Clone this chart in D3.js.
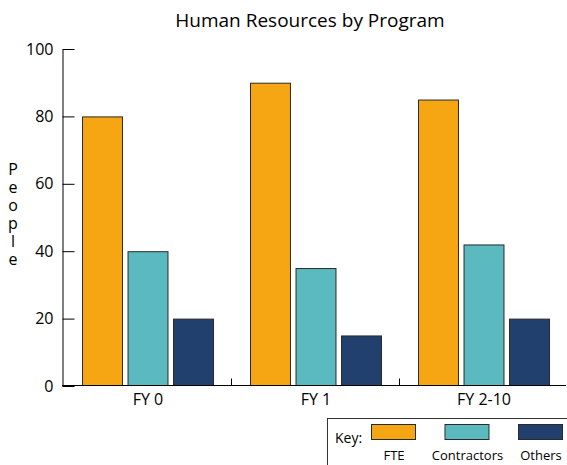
<!DOCTYPE html>
<html>
<head>
<meta charset="utf-8">
<script src="https://cdn.jsdelivr.net/npm/d3@7"></script>
<style>
  body { margin: 0; background: #fff; }
  svg { display: block; font-family: "Open Sans", sans-serif; }
</style>
</head>
<body>
<svg id="chart" width="567" height="465"></svg>
<script>
// chart data
var programs = ["FY 0", "FY 1", "FY 2-10"];
var series = ["FTE", "Contractors", "Others"];
var fte = [80, 90, 85];
var contractors = [40, 35, 42];
var others = [20, 15, 20];
var yTicks = [0, 20, 40, 60, 80, 100];
var colors = ["#f6a612", "#5bbac0", "#22406d"];

var values = [fte, contractors, others];
var svg = d3.select("#chart");

var x = d3.scaleBand().domain(programs).range([64, 568]);
var xInner = d3.scaleBand().domain(series).range([18, 150]).paddingInner(0.1);
var y = d3.scaleLinear().domain([0, 100]).range([386, 49]);

// title
svg.append("text")
  .attr("x", 310).attr("y", 27)
  .attr("text-anchor", "middle")
  .attr("font-size", 19)
  .text("Human Resources by Program");

// bars
var groups = svg.selectAll("g.prog")
  .data(programs)
  .enter().append("g")
  .attr("class", "prog")
  .attr("transform", function(d){ return "translate(" + x(d) + ",0)"; });

groups.selectAll("rect")
  .data(function(d, i){
    return series.map(function(s, j){ return {s: s, v: values[j][i], j: j}; });
  })
  .enter().append("rect")
  .attr("x", function(d){ return xInner(d.s) + 0.5; })
  .attr("y", function(d){ return y(d.v) + 0.5; })
  .attr("width", xInner.bandwidth() - 1)
  .attr("height", function(d){ return y(0) - y(d.v) - 1; })
  .attr("fill", function(d){ return colors[d.j]; })
  .attr("stroke", "#2a2a2a")
  .attr("stroke-width", 1);

// y axis
var yAxis = svg.append("g")
  .attr("transform", "translate(62.5,0)")
  .call(d3.axisLeft(y).tickValues(yTicks).tickSizeInner(-12).tickSizeOuter(0).tickPadding(9));
yAxis.selectAll("text").attr("font-size", 16).attr("font-family", "Open Sans, sans-serif").attr("fill", "#000");
yAxis.selectAll("line").attr("stroke", "#000");
yAxis.select(".domain").attr("stroke", "#000");

// x axis
var xAxis = svg.append("g")
  .attr("transform", "translate(0,385.5)")
  .call(d3.axisBottom(x).tickSize(0).tickPadding(8));
xAxis.select(".domain").remove();
xAxis.selectAll("text").attr("font-size", 16).attr("font-family", "Open Sans, sans-serif").attr("fill", "#000");
xAxis.append("line")
  .attr("x1", 62).attr("x2", 566)
  .attr("stroke", "#000");
xAxis.selectAll("line.sep")
  .data(programs.slice(1))
  .enter().append("line")
  .attr("class", "sep")
  .attr("x1", function(d){ return Math.round(x(d)) - 0.5; })
  .attr("x2", function(d){ return Math.round(x(d)) - 0.5; })
  .attr("y1", 0).attr("y2", -7)
  .attr("stroke", "#000");

// y label, letters stacked upright
svg.append("text")
  .attr("x", 13)
  .attr("y", 212)
  .attr("text-anchor", "middle")
  .attr("font-size", 16)
  .style("writing-mode", "vertical-rl")
  .style("text-orientation", "upright")
  .style("letter-spacing", "-4px")
  .text("People");

// legend
var legend = svg.append("g");
legend.append("rect")
  .attr("x", 327.5).attr("y", 418.5)
  .attr("width", 300).attr("height", 100)
  .attr("fill", "none")
  .attr("stroke", "#333");
legend.append("text")
  .attr("x", 335).attr("y", 443)
  .attr("font-size", 14)
  .text("Key:");
var lx = d3.scalePoint().domain(series).range([394, 541]);
var items = legend.selectAll("g.item")
  .data(series)
  .enter().append("g")
  .attr("class", "item")
  .attr("transform", function(d){ return "translate(" + lx(d) + ",0)"; });
items.append("rect")
  .attr("x", -22.5).attr("y", 424.5)
  .attr("width", 44).attr("height", 15)
  .attr("fill", function(d, i){ return colors[i]; })
  .attr("stroke", "#2a2a2a");
items.append("text")
  .attr("y", 460)
  .attr("text-anchor", "middle")
  .attr("font-size", 13)
  .text(function(d){ return d; });
</script>
</body>
</html>
